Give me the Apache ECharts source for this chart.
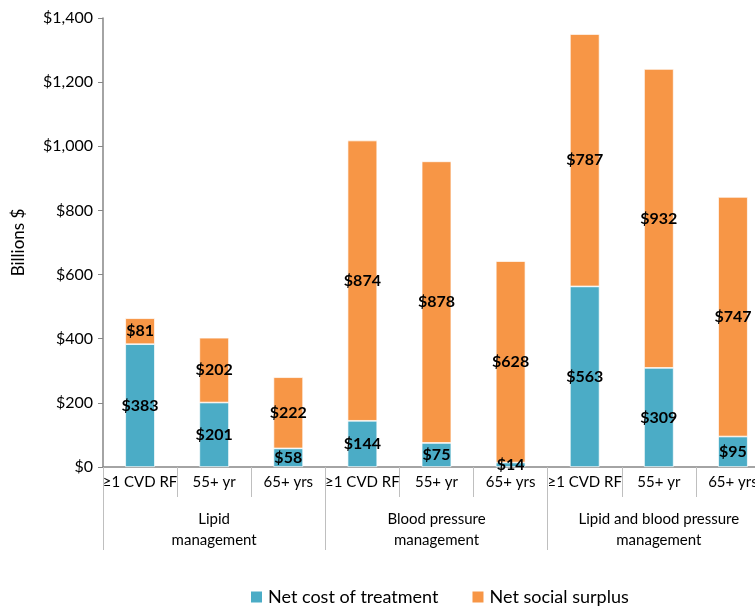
<!DOCTYPE html>
<html>
<head>
<meta charset="utf-8">
<script src="https://cdn.jsdelivr.net/npm/echarts@6/dist/echarts.min.js"></script>
<style>html,body{margin:0;padding:0;background:#fff}#chart{width:755px;height:606px}</style>
</head>
<body>
<div id="chart"></div>
<script>
var categories = ['≥1 CVD RF', '55+ yr', '65+ yrs', '≥1 CVD RF', '55+ yr', '65+ yrs', '≥1 CVD RF', '55+ yr', '65+ yrs'];
var groups = ['Lipid\nmanagement', 'Blood pressure\nmanagement', 'Lipid and blood pressure\nmanagement'];
var netCost = [383, 201, 58, 144, 75, 14, 563, 309, 95];
var netSurplus = [81, 202, 222, 874, 878, 628, 787, 932, 747];
var seriesNames = ['Net cost of treatment', 'Net social surplus'];
var yTicks = { min: 0, max: 1400, interval: 200 };

var FONT = 'Lato';
var chart = echarts.init(document.getElementById('chart'));
function fmtMoney(v) { return '$' + v.toLocaleString('en-US'); }
var labelStyle = { show: true, position: 'inside', fontFamily: FONT, fontWeight: 'bold', fontSize: 16, color: '#000', formatter: function (p) { return fmtMoney(p.value); } };
chart.setOption({
  animation: false,
  textStyle: { fontFamily: FONT },
  grid: { left: 103, right: -15, top: 18, bottom: 139, containLabel: false, outerBoundsMode: 'none' },
  legend: {
    bottom: -5, left: 244, itemWidth: 13, itemHeight: 13, itemGap: 32,
    icon: 'rect',
    textStyle: { fontFamily: FONT, fontSize: 18, color: '#000' },
    data: seriesNames
  },
  xAxis: [
    {
      type: 'category', data: categories, position: 'bottom',
      axisLine: { show: true, lineStyle: { color: '#868686', width: 1.5 } },
      axisTick: { show: true, length: 30, interval: 0, lineStyle: { color: '#bfbfbf' } },
      axisLabel: { interval: 0, margin: 8, fontFamily: FONT, fontSize: 15, color: '#000' }
    },
    {
      type: 'category', data: groups, position: 'bottom', offset: 30,
      axisLine: { show: false },
      axisTick: { show: true, length: 53, interval: 0, lineStyle: { color: '#bfbfbf' } },
      axisLabel: { interval: 0, margin: 12, lineHeight: 21, fontFamily: FONT, fontSize: 15, color: '#000' }
    }
  ],
  yAxis: {
    type: 'value', min: yTicks.min, max: yTicks.max, interval: yTicks.interval,
    name: 'Billions $', nameLocation: 'middle', nameGap: 76, nameRotate: 90,
    nameTextStyle: { fontFamily: FONT, fontSize: 17, color: '#000' },
    axisLine: { show: true, lineStyle: { color: '#868686', width: 1.5 } },
    axisTick: { show: true, length: 5, lineStyle: { color: '#868686' } },
    splitLine: { show: false },
    axisLabel: { margin: 10, fontFamily: FONT, fontSize: 16, color: '#000', formatter: fmtMoney }
  },
  series: [
    {
      name: seriesNames[0], type: 'bar', stack: 'total', data: netCost, barWidth: '40%', xAxisIndex: 0,
      itemStyle: { color: '#4BACC6', borderColor: '#ffffff', borderWidth: 0.7 },
      label: labelStyle
    },
    {
      name: seriesNames[1], type: 'bar', stack: 'total', data: netSurplus, barWidth: '40%', xAxisIndex: 0,
      itemStyle: { color: '#F79646', borderColor: '#ffffff', borderWidth: 0.7 },
      label: labelStyle
    }
  ]
});
</script>
</body>
</html>
